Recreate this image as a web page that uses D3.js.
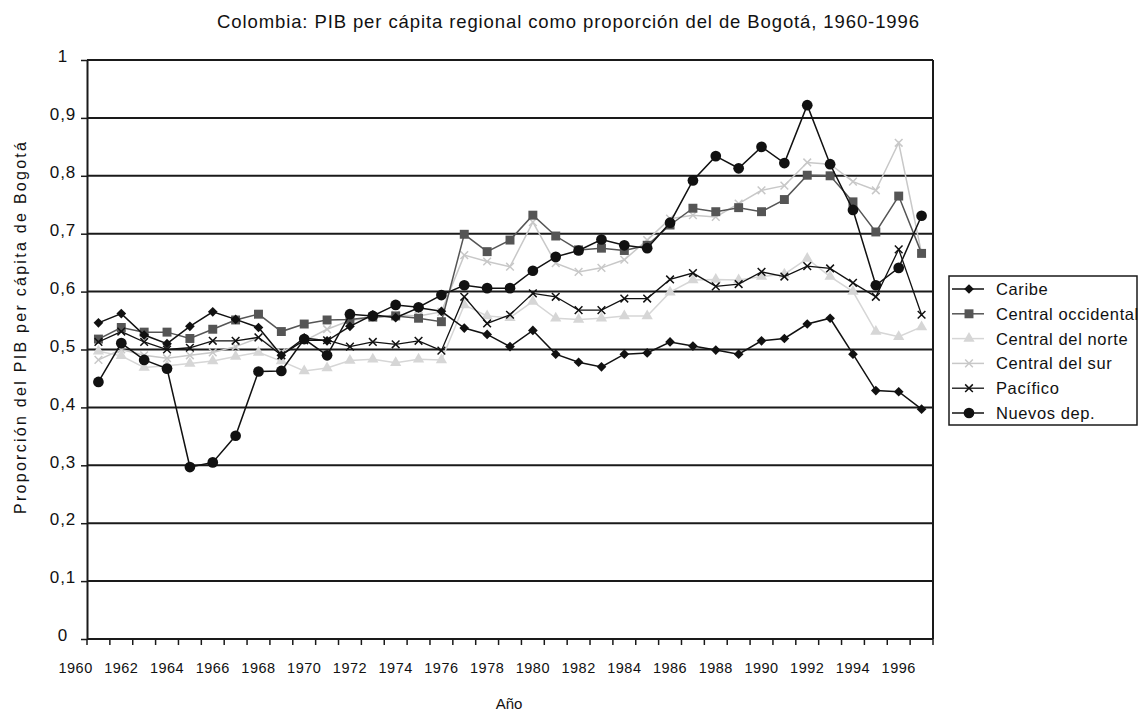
<!DOCTYPE html>
<html>
<head>
<meta charset="utf-8">
<script src="https://cdn.jsdelivr.net/npm/d3@7"></script>
<style>
  body { margin: 0; background: #fff; }
  svg { display: block; font-family: "Liberation Sans", Arial, sans-serif; }
</style>
</head>
<body>
<div id="chart"></div>
<script>

// categories (one point per year) and axis labels
var years = [1961, 1962, 1963, 1964, 1965, 1966, 1967, 1968, 1969, 1970,
             1971, 1972, 1973, 1974, 1975, 1976, 1977, 1978, 1979, 1980,
             1981, 1982, 1983, 1984, 1985, 1986, 1987, 1988, 1989, 1990,
             1991, 1992, 1993, 1994, 1995, 1996, 1997];
var tickYears = [1960, 1962, 1964, 1966, 1968, 1970, 1972, 1974, 1976, 1978,
                 1980, 1982, 1984, 1986, 1988, 1990, 1992, 1994, 1996];
var yTicks = [0, 0.1, 0.2, 0.3, 0.4, 0.5, 0.6, 0.7, 0.8, 0.9, 1];

// series values
var caribe = [0.546, 0.562, 0.525, 0.510, 0.540, 0.565, 0.552, 0.538, 0.490, 0.520,
              0.515, 0.540, 0.560, 0.555, 0.572, 0.566, 0.537, 0.526, 0.505, 0.533,
              0.492, 0.478, 0.470, 0.492, 0.494, 0.513, 0.506, 0.499, 0.492, 0.515,
              0.519, 0.544, 0.554, 0.492, 0.429, 0.427, 0.397];
var centralOccidental = [0.518, 0.538, 0.530, 0.530, 0.519, 0.535, 0.551, 0.561, 0.531, 0.544,
              0.551, 0.552, 0.556, 0.558, 0.554, 0.548, 0.699, 0.669, 0.689, 0.732,
              0.696, 0.672, 0.675, 0.671, 0.680, 0.715, 0.744, 0.738, 0.745, 0.738,
              0.759, 0.801, 0.800, 0.755, 0.703, 0.765, 0.666];
var centralNorte = [0.497, 0.489, 0.469, 0.472, 0.476, 0.480, 0.488, 0.495, 0.480, 0.463,
              0.468, 0.481, 0.483, 0.477, 0.483, 0.482, 0.577, 0.558, 0.555, 0.583,
              0.554, 0.552, 0.554, 0.558, 0.558, 0.599, 0.620, 0.621, 0.620, 0.626,
              0.630, 0.657, 0.626, 0.600, 0.531, 0.522, 0.539];
var centralSur = [0.482, 0.500, 0.490, 0.485, 0.490, 0.495, 0.505, 0.520, 0.495, 0.515,
              0.535, 0.550, 0.555, 0.560, 0.558, 0.565, 0.663, 0.652, 0.643, 0.720,
              0.649, 0.634, 0.641, 0.655, 0.689, 0.726, 0.732, 0.729, 0.752, 0.775,
              0.783, 0.823, 0.820, 0.790, 0.775, 0.857, 0.666];
var pacifico = [0.513, 0.531, 0.513, 0.500, 0.503, 0.515, 0.515, 0.521, 0.490, 0.516,
              0.516, 0.505, 0.513, 0.509, 0.515, 0.498, 0.591, 0.545, 0.560, 0.597,
              0.591, 0.568, 0.568, 0.588, 0.588, 0.621, 0.632, 0.609, 0.613, 0.634,
              0.626, 0.644, 0.640, 0.615, 0.591, 0.673, 0.560];
var nuevosDep = [0.444, 0.511, 0.482, 0.467, 0.297, 0.305, 0.351, 0.462, 0.463, 0.518,
              0.490, 0.561, 0.558, 0.577, 0.573, 0.594, 0.611, 0.606, 0.606, 0.636,
              0.660, 0.671, 0.690, 0.680, 0.675, 0.719, 0.792, 0.834, 0.813, 0.850,
              0.822, 0.922, 0.820, 0.741, 0.611, 0.641, 0.731];

// legend order, with the look of each series
var series = [
  {name: "Caribe", values: caribe, color: "#111", width: 1.5, symbol: d3.symbolDiamond2, size: 60, fill: "#111"},
  {name: "Central occidental", values: centralOccidental, color: "#555", width: 1.5, symbol: d3.symbolSquare, size: 80, fill: "#555"},
  {name: "Central del norte", values: centralNorte, color: "#d6d6d6", width: 1.5, symbol: d3.symbolTriangle, size: 55, fill: "#d6d6d6"},
  {name: "Central del sur", values: centralSur, color: "#c8c8c8", width: 1.5, symbol: d3.symbolTimes, size: 40, fill: "none"},
  {name: "Pacífico", values: pacifico, color: "#111", width: 1.3, symbol: d3.symbolTimes, size: 40, fill: "none"},
  {name: "Nuevos dep.", values: nuevosDep, color: "#111", width: 1.5, symbol: d3.symbolCircle, size: 90, fill: "#111"}
];
var drawOrder = [3, 2, 1, 4, 0, 5];

var W = 1139, H = 713;
var plot = {left: 87, right: 933, top: 60, bottom: 639};

var svg = d3.select("#chart").append("svg")
  .attr("width", W)
  .attr("height", H);

// one band per year; the extra first band only carries the "1960" label
var step = (plot.right - plot.left) / years.length;
var x = d3.scaleBand()
  .domain([tickYears[0]].concat(years))
  .range([plot.left - step, plot.right]);
var y = d3.scaleLinear()
  .domain([0, 1])
  .range([plot.bottom, plot.top]);
function cx(yr) { return x(yr) + x.bandwidth() / 2; }

// title
svg.append("text")
  .attr("x", 568).attr("y", 28)
  .attr("text-anchor", "middle")
  .attr("font-size", 18.5)
  .attr("textLength", 702).attr("lengthAdjust", "spacing")
  .attr("fill", "#111")
  .text("Colombia: PIB per cápita regional como proporción del de Bogotá, 1960-1996");

// horizontal grid lines
svg.append("g")
  .selectAll("line")
  .data(yTicks)
  .enter().append("line")
    .attr("x1", plot.left).attr("x2", plot.right)
    .attr("y1", function(d) { return y(d); })
    .attr("y2", function(d) { return y(d); })
    .attr("stroke", "#1a1a1a")
    .attr("stroke-width", 2);

// right border
svg.append("line")
  .attr("x1", plot.right).attr("x2", plot.right)
  .attr("y1", plot.top).attr("y2", plot.bottom)
  .attr("stroke", "#1a1a1a").attr("stroke-width", 2);

// y axis
var yAxis = svg.append("g")
  .attr("transform", "translate(" + plot.left + ",0)")
  .call(d3.axisLeft(y)
    .tickValues(yTicks)
    .tickSize(6).tickSizeOuter(0)
    .tickFormat(function(d) { return (d === 0 || d === 1) ? String(d) : d3.format(".1f")(d).replace(".", ","); }));
yAxis.select(".domain").attr("stroke", "#1a1a1a").attr("stroke-width", 2);
yAxis.selectAll(".tick line").attr("stroke", "#1a1a1a").attr("stroke-width", 1.5);
yAxis.selectAll(".tick text")
  .attr("x", -24).attr("dy", "0.1em")
  .attr("text-anchor", "middle")
  .attr("font-size", 17)
  .attr("letter-spacing", 1)
  .attr("fill", "#111");

// x axis: labels at every second year, small ticks between the years
var xAxis = svg.append("g")
  .attr("transform", "translate(0," + plot.bottom + ")")
  .call(d3.axisBottom(x).tickValues(tickYears).tickSize(0).tickPadding(24));
xAxis.select(".domain").remove();
xAxis.selectAll(".tick text")
  .attr("font-size", 14.5)
  .attr("letter-spacing", 0.5)
  .attr("fill", "#111");
svg.append("g")
  .selectAll("line")
  .data(years.concat([null]))
  .enter().append("line")
    .attr("x1", function(d) { return d === null ? plot.right : x(d); })
    .attr("x2", function(d) { return d === null ? plot.right : x(d); })
    .attr("y1", plot.bottom).attr("y2", plot.bottom + 6)
    .attr("stroke", "#1a1a1a").attr("stroke-width", 1.5);

// axis titles
svg.append("text")
  .attr("x", 509).attr("y", 709)
  .attr("text-anchor", "middle")
  .attr("font-size", 15)
  .attr("fill", "#111")
  .text("Año");
svg.append("text")
  .attr("transform", "translate(26,328) rotate(-90)")
  .attr("text-anchor", "middle")
  .attr("font-size", 16)
  .attr("textLength", 372).attr("lengthAdjust", "spacing")
  .attr("fill", "#111")
  .text("Proporción del PIB per cápita de Bogotá");

// series
var line = d3.line()
  .x(function(d, i) { return cx(years[i]); })
  .y(function(d) { return y(d); });

drawOrder.forEach(function(k) {
  var s = series[k];
  var g = svg.append("g");
  g.append("path")
    .datum(s.values)
    .attr("d", line)
    .attr("fill", "none")
    .attr("stroke", s.color)
    .attr("stroke-width", s.width);
  g.selectAll("path.mark")
    .data(s.values)
    .enter().append("path")
      .attr("class", "mark")
      .attr("transform", function(d, i) { return "translate(" + cx(years[i]) + "," + y(d) + ")"; })
      .attr("d", d3.symbol().type(s.symbol).size(s.size))
      .attr("fill", s.fill)
      .attr("stroke", s.fill === "none" ? s.color : "none")
      .attr("stroke-width", 1.5);
});

// legend
var legend = svg.append("g");
legend.append("rect")
  .attr("x", 949).attr("y", 276)
  .attr("width", 188).attr("height", 149)
  .attr("fill", "#fff")
  .attr("stroke", "#1a1a1a").attr("stroke-width", 1.5);

var item = legend.selectAll("g.item")
  .data(series)
  .enter().append("g")
    .attr("class", "item")
    .attr("transform", function(d, i) { return "translate(0," + (289 + i * 24.8) + ")"; });
item.append("line")
  .attr("x1", 952).attr("x2", 984)
  .attr("stroke", function(d) { return d.color; })
  .attr("stroke-width", function(d) { return d.width; });
item.append("path")
  .attr("transform", "translate(969,0)")
  .attr("d", function(d) { return d3.symbol().type(d.symbol).size(d.size)(); })
  .attr("fill", function(d) { return d.fill; })
  .attr("stroke", function(d) { return d.fill === "none" ? d.color : "none"; })
  .attr("stroke-width", 1.5);
item.append("text")
  .attr("x", 996).attr("y", 6)
  .attr("font-size", 16.5)
  .attr("letter-spacing", 0.6)
  .attr("fill", "#111")
  .text(function(d) { return d.name; });

</script>
</body>
</html>
